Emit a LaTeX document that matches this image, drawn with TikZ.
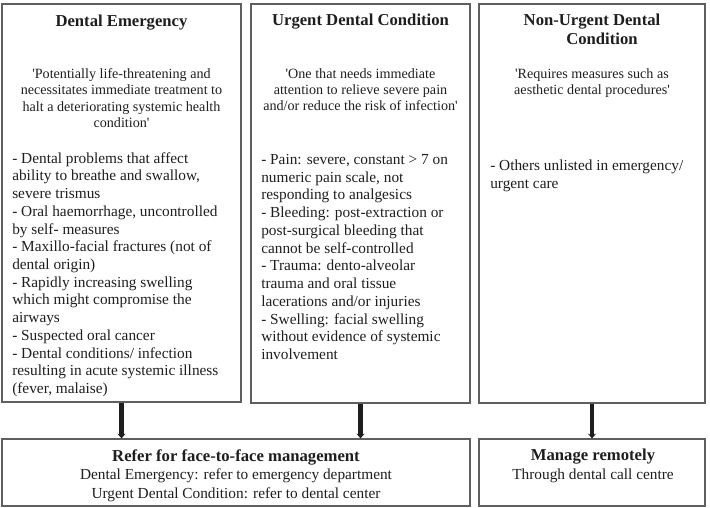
\documentclass[tikz,border=0pt]{standalone}
\usepackage{fontspec}
\setmainfont{Liberation Serif}[Ligatures=TeXOff]
\usetikzlibrary{arrows.meta}
\definecolor{boxline}{RGB}{95,95,95}
\definecolor{ink}{RGB}{30,30,30}
\begin{document}
\begin{tikzpicture}[x=0.75pt,y=-0.75pt,
  box/.style={draw=boxline,line width=0.9pt,inner sep=0pt},
  ttl/.style={inner sep=0pt,anchor=north,align=center,text=ink,font=\fontsize{12.5}{14.3}\selectfont\bfseries},
  qt/.style={inner sep=0pt,anchor=north,align=center,text=ink,font=\fontsize{10.6}{12.3}\selectfont},
  lst/.style={inner sep=0pt,anchor=north west,align=left,text=ink,font=\fontsize{11.5}{13.3}\selectfont},
  bot/.style={inner sep=0pt,anchor=north,align=center,text=ink,font=\fontsize{11.5}{13.9}\selectfont},
  arr/.style={draw=ink,line width=3.4pt,-{Stealth[width=6pt,length=3.5pt]}}]
\useasboundingbox (0,0) rectangle (710,507);
% boxes
\node[box,minimum width=179.25pt,minimum height=298.5pt] (emerg) at (121.5,203) {};
\node[box,minimum width=164.25pt,minimum height=299.25pt] (urgent) at (360.5,203.5) {};
\node[box,minimum width=169.5pt,minimum height=299.25pt] (nonurg) at (592,203.5) {};
\node[box,minimum width=351pt,minimum height=50.25pt] (refer) at (236,472.5) {};
\node[box,minimum width=169.5pt,minimum height=50.25pt] (remote) at (592,472.5) {};
% box 1
\node[ttl] (t1) at (121.5,15) {Dental Emergency};
\node[qt] (q1) at (121.5,68) {'Potentially life-threatening and\\necessitates immediate treatment to\\halt a deteriorating systemic health\\condition'};
\node[lst] (l1) at (12,152) {- Dental problems that affect\\ability to breathe and swallow,\\severe trismus\\- Oral haemorrhage, uncontrolled\\by self- measures\\- Maxillo-facial fractures (not of\\dental origin)\\- Rapidly increasing swelling\\which might compromise the\\airways\\- Suspected oral cancer\\- Dental conditions/ infection\\resulting in acute systemic illness\\(fever, malaise)};
% box 2
\node[ttl] (t2) at (360.5,14) {Urgent Dental Condition};
\node[qt] (q2) at (360.5,68) {'One that needs immediate\\attention to relieve severe pain\\and/or reduce the risk of infection'};
\node[lst] (l2) at (261,154) {- Pain: severe, constant > 7 on\\numeric pain scale, not\\responding to analgesics\\- Bleeding: post-extraction or\\post-surgical bleeding that\\cannot be self-controlled\\- Trauma: dento-alveolar\\trauma and oral tissue\\lacerations and/or injuries\\- Swelling: facial swelling\\without evidence of systemic\\involvement};
% box 3
\node[ttl] (t3) at (592,14) {Non-Urgent Dental\\\hspace*{15pt}Condition};
\node[qt] (q3) at (592,68) {'Requires measures such as\\aesthetic dental procedures'};
\node[lst] (l3) at (490,160) {- Others unlisted in emergency/\\urgent care};
% bottom boxes
\node[bot] (b1) at (236,449) {{\fontsize{12.5}{13.9}\selectfont\bfseries Refer for face-to-face management}\\Dental Emergency: refer to emergency department\\Urgent Dental Condition: refer to dental center};
\node[bot] (b2) at (593,449) {{\fontsize{12.5}{13.9}\selectfont\bfseries Manage remotely}\\Through dental call centre};
% arrows
\draw[arr] (emerg.south) -- (emerg.south |- refer.north);
\draw[arr] (urgent.south) -- (urgent.south |- refer.north);
\draw[arr] (nonurg.south) -- (nonurg.south |- remote.north);
\end{tikzpicture}
\end{document}
